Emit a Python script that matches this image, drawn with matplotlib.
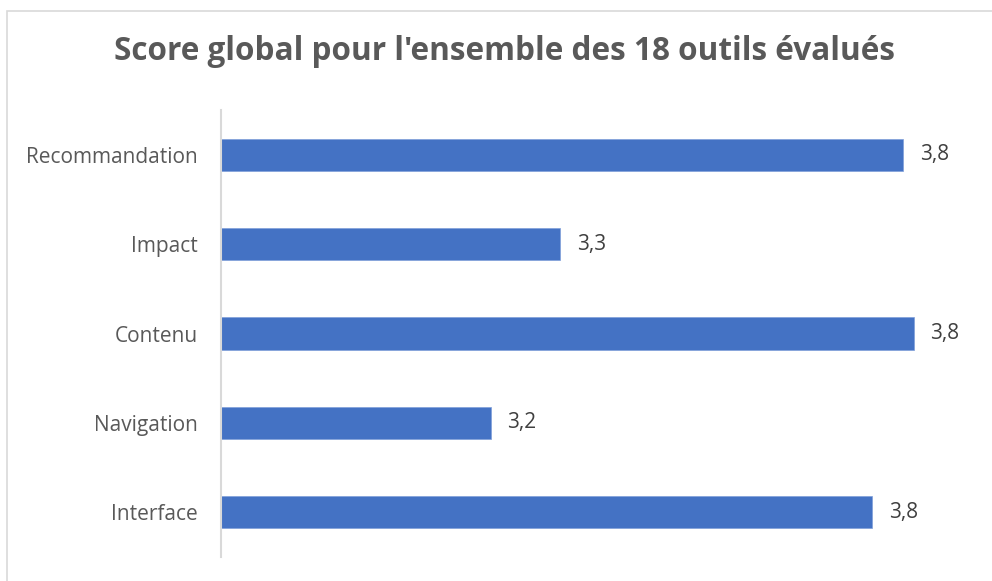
import matplotlib.pyplot as plt
from matplotlib.patches import Rectangle

# Data
categories = ["Interface", "Navigation", "Contenu", "Impact", "Recommandation"]
scores = [3.765, 3.20, 3.827, 3.303, 3.811]
score_labels = ["3,8", "3,2", "3,8", "3,3", "3,8"]
title = "Score global pour l'ensemble des 18 outils évalués"

plt.rcParams["font.family"] = ["Open Sans", "DejaVu Sans"]

fig = plt.figure(figsize=(9.92, 5.81), dpi=100)
W, H = 992, 581

# light grey chart border (only left/top visible in the crop)
fig.patches.append(Rectangle((7 / W, -0.1), 1.2, 1 - 11 / H + 0.1, transform=fig.transFigure,
                             fill=False, edgecolor="#d9d9d9", linewidth=1.2))

ax = fig.add_axes([221 / W, 1 - 557 / H, (963 - 221) / W, (557 - 110) / H])
bars = ax.barh(range(len(categories)), scores, height=0.36, left=0, color="#4472c4",
               edgecolor="#7f9fd9", linewidth=0.5)
ax.set_xlim(2.8, 3.9)
ax.set_ylim(-0.5, len(categories) - 0.5)
ax.set_yticks(range(len(categories)))
ax.set_yticklabels(categories, fontsize=15, color="#595959")
ax.tick_params(axis="y", length=0, pad=17)
ax.set_xticks([])

for s in ["top", "right", "bottom"]:
    ax.spines[s].set_visible(False)
ax.spines["left"].set_color("#d9d9d9")
ax.spines["left"].set_linewidth(1.5)

for v, lab, i in zip(scores, score_labels, range(len(scores))):
    ax.annotate(lab, (v, i), xytext=(12, 0), textcoords="offset points",
                va="center", ha="left", fontsize=15, color="#404040")

fig.text(505 / W, 1 - 52 / H, title, ha="center", va="center", fontsize=22.7,
         fontweight="bold", color="#595959")

fig.savefig("out.png", dpi=100)
